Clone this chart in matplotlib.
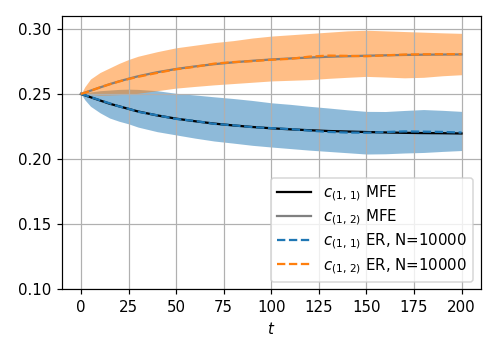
import matplotlib
matplotlib.use("Agg")
import matplotlib.pyplot as plt

# time points
t = [0, 2, 5, 10, 15, 20, 25, 30, 40, 50, 60, 70, 80, 90, 100,
     110, 120, 130, 140, 150, 160, 170, 180, 190, 200]

# mean-field estimates
c11_mfe = [0.250, 0.2490, 0.2475, 0.2450, 0.2425, 0.2405, 0.2385, 0.2365, 0.2335, 0.2310,
           0.2290, 0.2272, 0.2258, 0.2246, 0.2236, 0.2228, 0.2221, 0.2215, 0.2211, 0.2207,
           0.2204, 0.2201, 0.2199, 0.2198, 0.2196]
c12_mfe = [0.250, 0.2510, 0.2525, 0.2550, 0.2575, 0.2597, 0.2617, 0.2636, 0.2667, 0.2692,
           0.2712, 0.2729, 0.2743, 0.2755, 0.2765, 0.2773, 0.2780, 0.2786, 0.2790, 0.2794,
           0.2797, 0.2800, 0.2802, 0.2803, 0.2804]

# simulated ER network means
c11_er = [0.250, 0.2491, 0.2476, 0.2452, 0.2428, 0.2404, 0.2386, 0.2363, 0.2336, 0.2308,
          0.2292, 0.2270, 0.2259, 0.2245, 0.2237, 0.2230, 0.2218, 0.2208, 0.2203, 0.2202,
          0.2207, 0.2212, 0.2210, 0.2208, 0.2203]
c12_er = [0.250, 0.2509, 0.2524, 0.2551, 0.2574, 0.2596, 0.2615, 0.2632, 0.2662, 0.2690,
          0.2709, 0.2733, 0.2745, 0.2752, 0.2763, 0.2770, 0.2787, 0.2795, 0.2793, 0.2790,
          0.2797, 0.2803, 0.2805, 0.2806, 0.2806]

# spread bands of the simulations
c11_lo = [0.250, 0.2455, 0.2405, 0.2355, 0.2315, 0.2290, 0.2270, 0.2245, 0.2210, 0.2185,
          0.2160, 0.2138, 0.2122, 0.2105, 0.2092, 0.2080, 0.2068, 0.2058, 0.2048, 0.2038,
          0.2040, 0.2046, 0.2050, 0.2058, 0.2065]
c11_hi = [0.250, 0.2508, 0.2515, 0.2525, 0.2530, 0.2535, 0.2537, 0.2535, 0.2525, 0.2505,
          0.2492, 0.2478, 0.2465, 0.2450, 0.2432, 0.2420, 0.2405, 0.2392, 0.2378, 0.2366,
          0.2365, 0.2373, 0.2380, 0.2374, 0.2366]
c12_lo = [0.250, 0.2498, 0.2495, 0.2490, 0.2492, 0.2495, 0.2497, 0.2505, 0.2525, 0.2545,
          0.2558, 0.2570, 0.2580, 0.2590, 0.2600, 0.2605, 0.2610, 0.2620, 0.2628, 0.2635,
          0.2630, 0.2624, 0.2628, 0.2640, 0.2648]
c12_hi = [0.250, 0.2555, 0.2615, 0.2665, 0.2700, 0.2735, 0.2765, 0.2790, 0.2825, 0.2855,
          0.2875, 0.2895, 0.2910, 0.2930, 0.2945, 0.2955, 0.2965, 0.2975, 0.2985, 0.2990,
          0.2985, 0.2980, 0.2975, 0.2970, 0.2966]

DPI = 108
fig = plt.figure(figsize=(498 / DPI, 354 / DPI), dpi=DPI)
ax = fig.add_axes([0.1245, 0.1836, 0.8405, 0.7714])

ax.fill_between(t, c11_lo, c11_hi, color="tab:blue", alpha=0.5, linewidth=0)
ax.fill_between(t, c12_lo, c12_hi, color="tab:orange", alpha=0.5, linewidth=0)

ax.plot(t, c11_mfe, color="black", label=r"$c_{(1,\,1)}$ MFE")
ax.plot(t, c12_mfe, color="gray", label=r"$c_{(1,\,2)}$ MFE")
ax.plot(t, c11_er, "--", color="tab:blue", label=r"$c_{(1,\,1)}$ ER, N=10000")
ax.plot(t, c12_er, "--", color="tab:orange", label=r"$c_{(1,\,2)}$ ER, N=10000")

ax.set_ylim(0.10, 0.31)
ax.set_yticks([0.10, 0.15, 0.20, 0.25, 0.30])
ax.set_xticks([0, 25, 50, 75, 100, 125, 150, 175, 200])
ax.set_xlabel("$t$")
ax.grid(True)
ax.legend(loc="lower right", handlelength=2.3, labelspacing=0.3)

fig.savefig("out.png", dpi=DPI)
